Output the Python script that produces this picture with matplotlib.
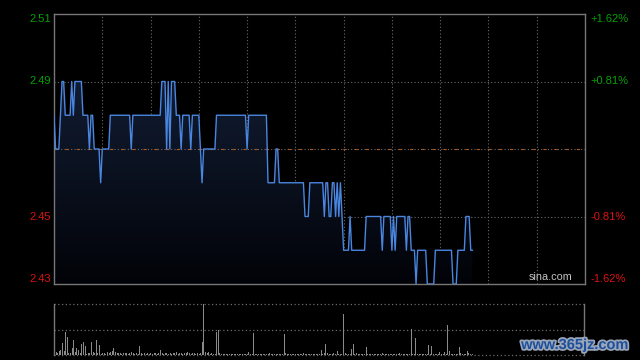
import numpy as np
import matplotlib
matplotlib.use("Agg")
import matplotlib.pyplot as plt
import matplotlib.patheffects as pe
from matplotlib.colors import LinearSegmentedColormap
from matplotlib.transforms import blended_transform_factory

plt.rcParams['font.family'] = ['Liberation Sans', 'DejaVu Sans']

# intraday price, one value per minute from the open
prices = [
    2.48, 2.47, 2.47, 2.47, 2.48, 2.49, 2.49, 2.48, 2.48, 2.48,
    2.48, 2.49, 2.48, 2.49, 2.49, 2.49, 2.49, 2.49, 2.48, 2.48,
    2.48, 2.48, 2.47, 2.48, 2.48, 2.47, 2.47, 2.47, 2.47, 2.46,
    2.47, 2.47, 2.47, 2.47, 2.47, 2.48, 2.48, 2.48, 2.48, 2.48,
    2.48, 2.48, 2.48, 2.48, 2.48, 2.48, 2.48, 2.48, 2.47, 2.48,
    2.48, 2.48, 2.48, 2.48, 2.48, 2.48, 2.48, 2.48, 2.48, 2.48,
    2.48, 2.48, 2.48, 2.48, 2.48, 2.48, 2.48, 2.49, 2.49, 2.49,
    2.47, 2.49, 2.47, 2.49, 2.49, 2.49, 2.48, 2.48, 2.48, 2.47,
    2.48, 2.48, 2.48, 2.48, 2.48, 2.47, 2.48, 2.48, 2.48, 2.48,
    2.48, 2.47, 2.46, 2.47, 2.47, 2.47, 2.47, 2.47, 2.47, 2.47,
    2.47, 2.48, 2.48, 2.48, 2.48, 2.48, 2.48, 2.48, 2.48, 2.48,
    2.48, 2.48, 2.48, 2.48, 2.48, 2.48, 2.48, 2.48, 2.48, 2.48,
    2.47, 2.48, 2.48, 2.48, 2.48, 2.48, 2.48, 2.48, 2.48, 2.48,
    2.48, 2.48, 2.48, 2.46, 2.46, 2.46, 2.46, 2.46, 2.47, 2.47,
    2.46, 2.46, 2.46, 2.46, 2.46, 2.46, 2.46, 2.46, 2.46, 2.46,
    2.46, 2.46, 2.46, 2.46, 2.46, 2.46, 2.45, 2.45, 2.45, 2.46,
    2.46, 2.46, 2.46, 2.46, 2.46, 2.46, 2.46, 2.46, 2.45, 2.46,
    2.46, 2.45, 2.45, 2.46, 2.46, 2.45, 2.46, 2.45, 2.46, 2.45,
    2.44, 2.44, 2.44, 2.44, 2.45, 2.44, 2.44, 2.44, 2.44, 2.44,
    2.44, 2.44, 2.44, 2.44, 2.45, 2.45, 2.45, 2.45, 2.45, 2.45,
    2.45, 2.45, 2.45, 2.45, 2.44, 2.45, 2.45, 2.45, 2.45, 2.45,
    2.44, 2.45, 2.44, 2.45, 2.45, 2.45, 2.45, 2.45, 2.45, 2.44,
    2.45, 2.45, 2.44, 2.44, 2.44, 2.43, 2.44, 2.44, 2.44, 2.44,
    2.44, 2.44, 2.43, 2.43, 2.43, 2.43, 2.43, 2.44, 2.44, 2.44,
    2.44, 2.44, 2.44, 2.44, 2.44, 2.44, 2.44, 2.44, 2.43, 2.43,
    2.43, 2.44, 2.44, 2.44, 2.44, 2.44, 2.45, 2.45, 2.45, 2.44,
    2.44,
]

# volume per minute (relative, max = 100)
volume = [
    11, 5, 3, 7, 9, 24, 8, 45, 35, 4,
    3, 14, 29, 5, 13, 10, 3, 21, 25, 18,
    2, 3, 4, 25, 5, 4, 30, 3, 19, 2,
    3, 4, 2, 5, 3, 6, 8, 13, 5, 3,
    4, 3, 2, 3, 4, 3, 2, 4, 5, 3,
    2, 3, 2, 17, 3, 2, 3, 2, 4, 2,
    3, 2, 3, 4, 2, 3, 9, 3, 2, 3,
    4, 2, 3, 2, 4, 3, 5, 2, 3, 4,
    2, 3, 4, 5, 3, 2, 4, 3, 2, 3,
    2, 3, 26, 100, 5, 3, 6, 2, 3, 2,
    2, 46, 50, 3, 2, 2, 1, 2, 2, 1,
    2, 1, 2, 2, 1, 2, 2, 1, 2, 2,
    1, 6, 2, 1, 44, 2, 1, 2, 2, 1,
    2, 1, 2, 2, 3, 1, 2, 2, 1, 2,
    2, 1, 2, 42, 3, 1, 2, 2, 1, 2,
    1, 2, 2, 1, 2, 3, 2, 1, 2, 2,
    1, 2, 2, 1, 2, 2, 9, 2, 3, 21,
    3, 2, 2, 1, 3, 2, 7, 2, 2, 1,
    81, 3, 2, 2, 1, 11, 21, 2, 3, 2,
    1, 2, 2, 2, 15, 2, 1, 2, 2, 1,
    2, 2, 1, 2, 3, 2, 1, 2, 2, 1,
    2, 2, 1, 2, 2, 3, 1, 2, 2, 1,
    2, 2, 51, 2, 2, 33, 2, 1, 2, 2,
    1, 2, 2, 19, 2, 17, 2, 1, 2, 2,
    5, 2, 1, 5, 2, 59, 7, 2, 1, 2,
    2, 1, 16, 3, 2, 1, 2, 7, 3, 2,
    2,
]

prev_close = 2.47
session_minutes = 330
price_ticks = [2.51, 2.49, 2.45, 2.43]
pct_labels = ['+1.62%', '+0.81%', '-0.81%', '-1.62%']

minutes = np.arange(len(prices))
grid_col = '#6a6a6a'
green = '#06a006'
red = '#dd1010'

fig = plt.figure(figsize=(6.4, 3.6), dpi=100, facecolor='black')

# price panel
ax = fig.add_axes([54 / 640, 76 / 360, 531 / 640, 270 / 360])
ax.set_facecolor('black')
ax.set_xlim(0, session_minutes)
ax.set_ylim(2.43, 2.51)
ax.set_xticks([])
ax.set_yticks([])
for s in ax.spines.values():
    s.set_color('#777777')
    s.set_linewidth(1)

for t in range(30, session_minutes, 30):
    ax.axvline(t, color=grid_col, lw=0.8, ls=(0, (1, 2)), zorder=0)
for p in [2.49, 2.45]:
    ax.axhline(p, color=grid_col, lw=0.8, ls=(0, (1, 2)), zorder=0)

# gradient fill under the line
poly = ax.fill_between(minutes, prices, 2.43, color='none')
cmap = LinearSegmentedColormap.from_list('fade', ['#020308', '#0c1424', '#17233c'])
grad = np.linspace(0, 1, 256).reshape(-1, 1)
im = ax.imshow(grad, extent=[0, session_minutes, 2.43, 2.51], origin='lower',
               aspect='auto', cmap=cmap, zorder=1)
im.set_clip_path(poly.get_paths()[0], transform=ax.transData)

ax.axhline(prev_close, color=grid_col, lw=0.8, ls=(0, (1, 2)), zorder=2)
ax.axhline(prev_close, color='#a8581e', lw=0.8, ls=(0, (3, 7)), zorder=2)

ax.plot(minutes, prices, color='#4a86e0', lw=1.0, zorder=3)

trans = blended_transform_factory(ax.transAxes, ax.transData)
for p, pl in zip(price_ticks, pct_labels):
    col = green if p > prev_close else red
    va = 'center'
    if p == 2.51:
        va = 'top'
    elif p == 2.43:
        va = 'bottom'
    ax.text(-0.006, p, f'{p:.2f}', transform=trans, ha='right', va=va,
            color=col, fontsize=8, clip_on=False)
    ax.text(1.01, p, pl, transform=trans, ha='left', va=va,
            color=col, fontsize=8, clip_on=False)

ax.text(0.977, 0.006, 'sina.com', transform=ax.transAxes, ha='right',
        va='bottom', color='#c4c4c4', fontsize=7.8, zorder=4)

# volume panel
ax2 = fig.add_axes([54 / 640, 5 / 360, 530 / 640, 51 / 360])
ax2.set_facecolor('black')
ax2.set_xlim(0, session_minutes)
ax2.set_ylim(0, max(volume))
ax2.set_xticks([])
ax2.set_yticks([])
for side in ['top', 'bottom']:
    ax2.spines[side].set_visible(False)
for side in ['left', 'right']:
    ax2.spines[side].set_color('#777777')
    ax2.spines[side].set_linewidth(1)
for v in [0, max(volume) / 2, max(volume)]:
    ax2.axhline(v, color=grid_col, lw=0.9, ls=(0, (1, 2)), clip_on=False)
ax2.vlines(minutes, 0, volume, color='#8a8a8a', lw=0.7, antialiased=False)

# site watermark
fig.text(575 / 640, 1 - 345 / 360, 'www.365jz.com', ha='center', va='center',
         fontsize=10.5, fontweight='bold', color='#1d4f9c',
         path_effects=[pe.withStroke(linewidth=2.5, foreground='#9aa6b8')])

fig.savefig('out.png', dpi=100, facecolor='black')
